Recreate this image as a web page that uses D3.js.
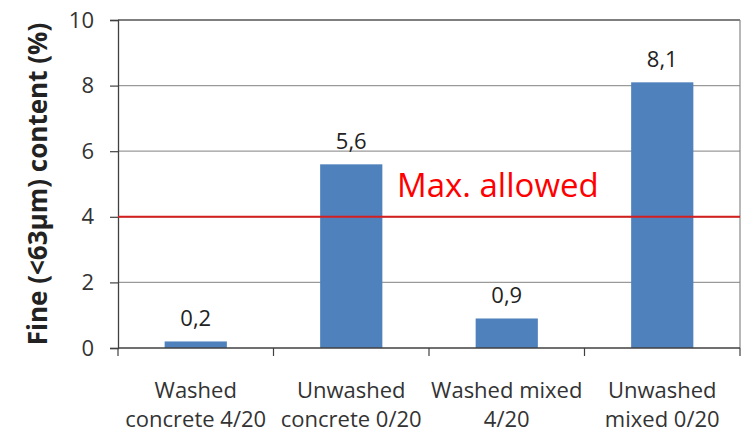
<!DOCTYPE html>
<html>
<head>
<meta charset="utf-8">
<script src="https://cdn.jsdelivr.net/npm/d3@7"></script>
<style>
  html, body { margin: 0; padding: 0; background: #ffffff; }
  svg { display: block; }
</style>
</head>
<body>
<script>
// Fine (<63 µm) content per aggregate type
const categories = [
  ["Washed", "concrete 4/20"],
  ["Unwashed", "concrete 0/20"],
  ["Washed mixed", "4/20"],
  ["Unwashed", "mixed 0/20"]
];
const values = [0.2, 5.6, 0.9, 8.1];
const valueLabels = ["0,2", "5,6", "0,9", "8,1"];
const yTicks = [0, 2, 4, 6, 8, 10];
const limitValue = 4;
const limitLabel = "Max. allowed";
const yTitle = "Fine (<63µm) content (%)";

const W = 744, H = 434;
const plotLeft = 118, plotRight = 740, plotTop = 20, plotBottom = 348;
const FONT = "'Open Sans', 'DejaVu Sans', sans-serif";

const svg = d3.select("body").append("svg")
  .attr("width", W).attr("height", H);

const x = d3.scaleBand()
  .domain(d3.range(categories.length))
  .range([plotLeft, plotRight])
  .paddingInner(0.6)
  .paddingOuter(0.3);

const y = d3.scaleLinear().domain([0, 10]).range([plotBottom, plotTop]);

// horizontal gridlines
svg.append("g").selectAll("line")
  .data(yTicks.filter(t => t > 0 && t < 10))
  .join("line")
  .attr("x1", plotLeft).attr("x2", plotRight)
  .attr("y1", d => y(d)).attr("y2", d => y(d))
  .attr("stroke", "#9a9a9a").attr("stroke-width", 1.2);

// plot frame: top and right edge
svg.append("line")
  .attr("x1", plotLeft).attr("x2", plotRight)
  .attr("y1", y(10)).attr("y2", y(10))
  .attr("stroke", "#555").attr("stroke-width", 1.3);
svg.append("line")
  .attr("x1", plotRight).attr("x2", plotRight)
  .attr("y1", y(10)).attr("y2", y(0))
  .attr("stroke", "#888").attr("stroke-width", 1.2);

// bars
svg.append("g").selectAll("rect")
  .data(values)
  .join("rect")
  .attr("x", (d, i) => x(i))
  .attr("width", x.bandwidth())
  .attr("y", d => y(d))
  .attr("height", d => y(0) - y(d))
  .attr("fill", "#4f81bd");

// value labels
svg.append("g").selectAll("text")
  .data(values)
  .join("text")
  .attr("x", (d, i) => x(i) + x.bandwidth() / 2)
  .attr("y", d => y(d) - 15)
  .attr("text-anchor", "middle")
  .attr("font-family", FONT)
  .attr("font-size", 22)
  .attr("fill", "#222")
  .text((d, i) => valueLabels[i]);

// y axis
const yAxis = d3.axisLeft(y).tickValues(yTicks).tickSize(8).tickPadding(16)
  .tickFormat(d3.format("d"));
const gy = svg.append("g").attr("transform", `translate(${plotLeft},0)`).call(yAxis);
gy.select(".domain").attr("stroke", "#404040").attr("stroke-width", 1.3);
gy.selectAll(".tick line").attr("stroke", "#404040").attr("stroke-width", 1.2);
gy.selectAll(".tick text")
  .attr("font-family", FONT).attr("font-size", 22).attr("fill", "#333");

// x axis with boundary ticks
const boundaries = d3.range(categories.length + 1)
  .map(i => plotLeft + i * (plotRight - plotLeft) / categories.length);
svg.append("line")
  .attr("x1", plotLeft).attr("x2", plotRight)
  .attr("y1", y(0)).attr("y2", y(0))
  .attr("stroke", "#404040").attr("stroke-width", 1.3);
svg.append("g").selectAll("line")
  .data(boundaries)
  .join("line")
  .attr("x1", d => d).attr("x2", d => d)
  .attr("y1", y(0)).attr("y2", y(0) + 8)
  .attr("stroke", "#404040").attr("stroke-width", 1.2);

// category labels (two lines)
const cat = svg.append("g").selectAll("text")
  .data(categories)
  .join("text")
  .attr("text-anchor", "middle")
  .attr("font-family", FONT)
  .attr("font-size", 22)
  .attr("fill", "#333");
cat.append("tspan")
  .attr("x", (d, i) => x(i) + x.bandwidth() / 2)
  .attr("y", 398)
  .text(d => d[0]);
cat.append("tspan")
  .attr("x", (d, i) => x(i) + x.bandwidth() / 2)
  .attr("y", 427)
  .text(d => d[1]);

// y title
svg.append("text")
  .attr("transform", `translate(47,${(plotTop + plotBottom) / 2}) rotate(-90)`)
  .attr("text-anchor", "middle")
  .attr("font-family", FONT)
  .attr("font-weight", "bold")
  .attr("font-size", 26)
  .attr("fill", "#222")
  .text(yTitle);

// limit line and label
svg.append("line")
  .attr("x1", plotLeft).attr("x2", plotRight)
  .attr("y1", y(limitValue)).attr("y2", y(limitValue))
  .attr("stroke", "#d41f1f").attr("stroke-width", 2);
svg.append("text")
  .attr("x", 397)
  .attr("y", y(limitValue) - 20)
  .attr("font-family", FONT)
  .attr("font-size", 33)
  .attr("fill", "#ff0000")
  .text(limitLabel);
</script>
</body>
</html>
